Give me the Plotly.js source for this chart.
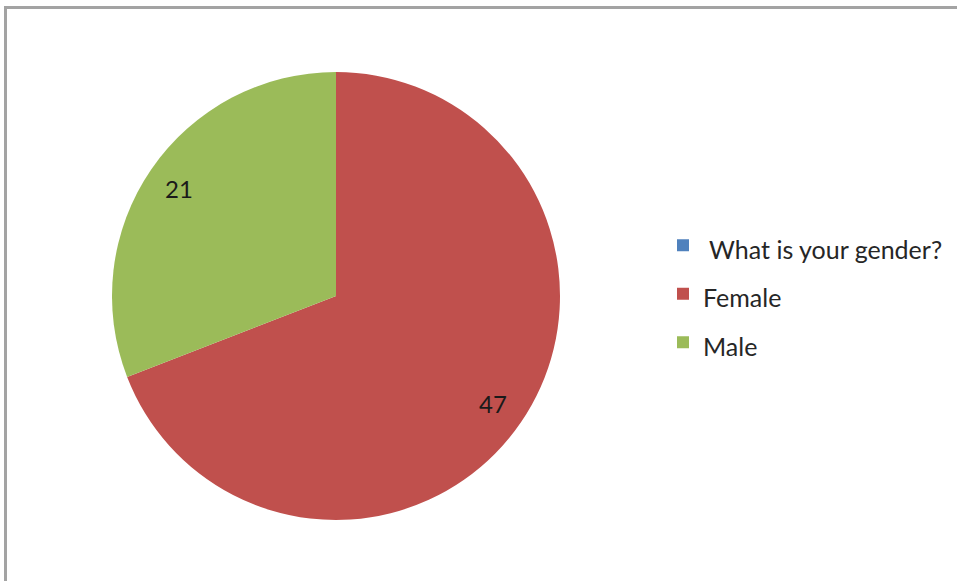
<!DOCTYPE html>
<html>
<head>
<meta charset="utf-8">
<script src="https://cdn.plot.ly/plotly-3.0.1.min.js"></script>
<style>
  html, body { margin: 0; padding: 0; background: #fff; }
  #wrap { position: relative; width: 957px; height: 581px; overflow: hidden; }
  #chart { position: absolute; left: 0; top: 0; width: 957px; height: 581px; }
  #frame { position: absolute; left: 4px; top: 6px; width: 980px; height: 600px;
           border-top: 3px solid #a3a3a3; border-left: 3px solid #a3a3a3; pointer-events: none; }
</style>
</head>
<body>
<div id="wrap">
  <div id="chart"></div>
  <div id="frame"></div>
</div>
<script>
const categories = [" What is your gender?", "Female", "Male"];
const values = [0, 47, 21];
const colors = ["#4F81BD", "#C0504D", "#9BBB59"];

const W = 957, H = 581;
const cxPx = 336, cyPx = 296, rPx = 224;

// label positions computed from the slice values (clockwise from 12 o'clock)
const total = values.reduce((a, b) => a + b, 0);
const annotations = [];
let cum = 0;
values.forEach((v, i) => {
  const mid = (cum + v / 2) / total;
  cum += v;
  if (v <= 0) return;
  const ang = mid * 2 * Math.PI;
  const dx = Math.sin(ang) * rPx * 0.85;
  const dy = Math.cos(ang) * rPx * 0.85;
  annotations.push({
    xref: "paper", yref: "paper",
    x: (cxPx + dx) / W, y: 1 - (cyPx - dy) / H,
    xanchor: "center", yanchor: "middle",
    text: String(v), showarrow: false,
    font: { family: "Lato, 'Open Sans', sans-serif", size: 24, color: "#1a1a1a" }
  });
});

// legend text drawn at 25px inside a taller legend row
const legendLabels = categories.map(c => '<span style="font-size:25px">' + c + '</span>');

const trace = {
  type: "pie",
  labels: legendLabels,
  values: values,
  marker: { colors: colors, line: { width: 0 } },
  sort: false,
  direction: "clockwise",
  rotation: 0,
  textinfo: "none",
  hoverinfo: "value",
  domain: {
    x: [(cxPx - rPx) / W, (cxPx + rPx) / W],
    y: [1 - (cyPx + rPx) / H, 1 - (cyPx - rPx) / H]
  }
};

const layout = {
  width: W, height: H,
  margin: { l: 0, r: 0, t: 0, b: 0 },
  paper_bgcolor: "#ffffff",
  showlegend: true,
  legend: {
    x: 663 / W, y: 1 - 216 / H, xanchor: "left", yanchor: "top",
    font: { family: "Lato, 'Open Sans', sans-serif", size: 35, color: "#262626" },
    tracegroupgap: 0, itemwidth: 30,
    bgcolor: "rgba(0,0,0,0)"
  },
  annotations: annotations
};

Plotly.newPlot("chart", [trace], layout, { displayModeBar: false, staticPlot: true });
</script>
</body>
</html>
